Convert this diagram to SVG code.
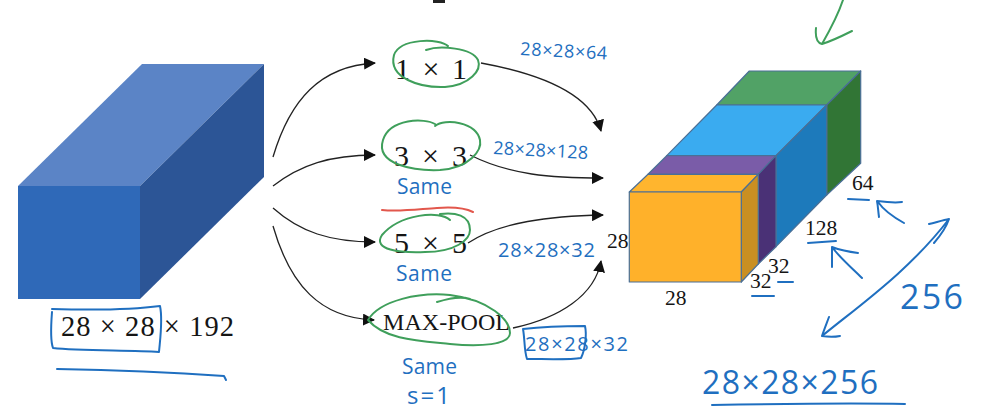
<svg xmlns="http://www.w3.org/2000/svg" width="995" height="419" viewBox="0 0 995 419">
<style>
.f{stroke:#4a6f96;stroke-width:1.2;stroke-linejoin:round}
.t{font-family:"Liberation Serif","Times New Roman",serif;fill:#151515}
.c{fill:none;stroke:#222;stroke-width:1.3;marker-end:url(#a)}
.g{fill:none;stroke:#3f9f5b;stroke-width:2;stroke-linecap:round;stroke-linejoin:round}
.b{fill:none;stroke:#1f6fc0;stroke-width:2;stroke-linecap:round;stroke-linejoin:round}
.h{font-family:"Open Sans","Noto Sans",sans-serif;fill:#1f6fc0}
</style>
<defs><marker id="a" markerUnits="userSpaceOnUse" markerWidth="12" markerHeight="12" refX="11" refY="6" orient="auto"><path d="M0,0L12,6L0,12Z" fill="#111"/></marker></defs>
<rect width="995" height="419" fill="#fff"/>
<path d="M433,1.5H445" stroke="#222" stroke-width="3"/>
<g id="input-volume">
<path d="M18,186L142,64H264L140,186Z" fill="#5b84c6"/>
<path d="M140,186L264,64V177L140,299Z" fill="#2c5596"/>
<rect x="18" y="186" width="122" height="113" fill="#2f69b8"/>
<text class="t" x="61" y="336" font-size="28.5" textLength="173" lengthAdjust="spacing">28 × 28 × 192</text>
<path class="b" d="M52,312C51,325 50,340 53,348C80,351 130,350 159,352M52,309C85,310 130,310 160,306C163,320 160,340 159,352"/>
<path class="b" d="M57,369C110,370 180,373 224,376L226,380"/>
</g>
<g id="connectors">
<path class="c" d="M273,157C290,100 320,66 375,63"/>
<path class="c" d="M273,186C300,165 330,155 375,155"/>
<path class="c" d="M273,208C300,232 330,242 375,242"/>
<path class="c" d="M273,226C290,285 320,318 374,320"/>
<path class="c" d="M481,63C530,72 590,90 601,131"/>
<path class="c" d="M470,155C510,175 550,178 603,178"/>
<path class="c" d="M468,243C500,222 550,216 603,215"/>
<path class="c" d="M513,328C560,318 595,295 601,261"/>
</g>
<g id="conv-1x1">
<text class="t" x="395" y="79" font-size="30" textLength="72" lengthAdjust="spacing">1 × 1</text>
<path class="g" d="M448,46C440,38 400,38 394,55C388,78 420,88 445,87C470,85 482,70 478,60C472,48 440,45 426,50"/>
<text class="h" x="520" y="55" font-size="18" textLength="87" lengthAdjust="spacing" transform="rotate(3 520 55)">28×28×64</text>
</g>
<g id="conv-3x3">
<text class="t" x="394" y="166" font-size="30" textLength="73" lengthAdjust="spacing">3 × 3</text>
<path class="g" d="M435,124C425,118 390,118 383,140C375,165 415,171 440,170C470,168 482,150 480,140C476,122 445,118 435,126"/>
<text class="h" x="493" y="154" font-size="18" textLength="95" lengthAdjust="spacing" transform="rotate(3 493 154)">28×28×128</text>
<text class="h" x="397" y="194" font-size="21" textLength="55" lengthAdjust="spacing">Same</text>
</g>
<path class="b" d="M382,210C400,212 420,209 437,208C450,207 465,208 473,212" style="stroke:#e2574c"/>
<g id="conv-5x5">
<text class="t" x="394" y="253" font-size="30" textLength="73" lengthAdjust="spacing">5 × 5</text>
<path class="g" d="M450,220C440,210 400,214 382,235C372,250 400,253 425,252C455,252 470,240 470,230C470,215 455,212 440,214"/>
<text class="h" x="498" y="257" font-size="20" textLength="97" lengthAdjust="spacing">28×28×32</text>
<text class="h" x="396" y="281" font-size="21" textLength="56" lengthAdjust="spacing">Same</text>
</g>
<g id="max-pool">
<text class="t" x="383" y="330" font-size="23" textLength="127" lengthAdjust="spacingAndGlyphs">MAX-POOL</text>
<path class="g" d="M368,320C380,300 420,292 450,295C490,300 510,320 510,333C510,345 480,347 450,344C420,341 385,340 368,320M437,302C450,298 460,296 470,299"/>
<path class="b" d="M523,329C540,327 570,326 585,326C587,335 585,350 581,358C570,360 545,359 527,359C524,350 525,340 523,329"/>
<text class="h" x="525" y="351" font-size="20" textLength="103" lengthAdjust="spacing">28×28×32</text>
<text class="h" x="402" y="374" font-size="21" textLength="55" lengthAdjust="spacing">Same</text>
<text class="h" x="407" y="404" font-size="24" textLength="43" lengthAdjust="spacing">s=1</text>
</g>
<g id="output-volume">
<path class="f" d="M716.7,105L749.3,71H860.7L826.7,105Z" fill="#51a266"/>
<path class="f" d="M826.7,105L860.7,71V163.3L826.7,195Z" fill="#317535"/>
<path class="f" d="M666.7,155.7L716.7,105H826.7L776,155.7Z" fill="#3aabf0"/>
<path class="f" d="M776,155.7L826.7,105V195L776,246.7Z" fill="#1d7abb"/>
<path class="f" d="M648,174.3L666.7,155.7H776L758.3,174.3Z" fill="#7a5ca8"/>
<path class="f" d="M758.3,174.3L776,155.7V246.7L758.3,264Z" fill="#4a3176"/>
<path class="f" d="M629.3,192L648,174.3H758.3L741.3,192Z" fill="#ffb52e"/>
<path class="f" d="M741.3,192L758.3,174.3V264L741.3,282Z" fill="#c98f22"/>
<rect class="f" x="629.3" y="192" width="112" height="90" fill="#ffb12a"/>
<g class="t" font-size="21.5">
<text x="852" y="190">64</text><text x="805" y="235">128</text><text x="768" y="273">32</text><text x="750" y="288">32</text><text x="665" y="305">28</text><text x="607" y="248">28</text>
</g>
<path class="b" d="M848,199L869,200M808,243L836,241M778,282H793M752,296H774"/>
<path class="b" d="M904,223C895,218 885,212 878,202M879,217C878,210 878,206 877,201C885,202 895,203 902,202"/>
<path class="b" d="M862,278C852,268 840,258 832,247M832,267C832,260 832,254 832,247C840,250 850,252 858,253"/>
<path class="b" d="M822,336C860,305 910,270 949,219M929,224C937,222 944,220 949,219C946,228 940,236 934,243M829,317C826,325 824,330 822,336C828,337 835,337 840,336"/>
<text class="h" x="900" y="309" font-size="34" textLength="63" lengthAdjust="spacing">256</text>
<text class="h" x="702" y="394" font-size="32" textLength="176" lengthAdjust="spacing">28×28×256</text>
<path class="b" d="M712,405C770,404 850,403 905,404"/>
<path class="g" d="M843,0C838,15 830,30 822,44M816,28C815,38 818,43 822,44C832,41 842,36 852,31"/>
</g>
</svg>
